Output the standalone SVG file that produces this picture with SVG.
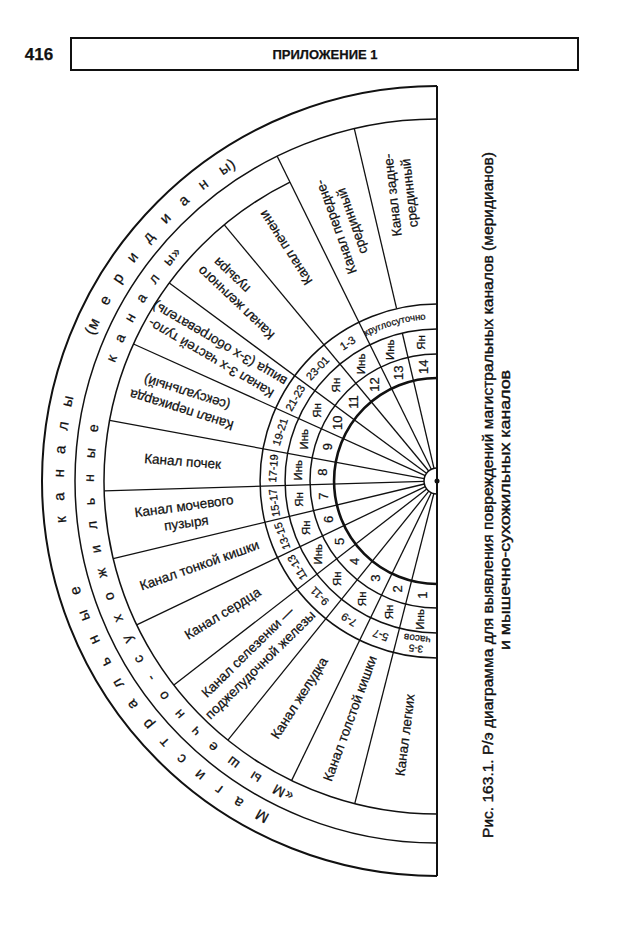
<svg xmlns="http://www.w3.org/2000/svg" width="620" height="930" viewBox="0 0 620 930">
<style>
text{font-family:"Liberation Sans",Arial,sans-serif;fill:#111;text-anchor:middle;stroke:#111;stroke-width:0.25}
.sp{fill:none;stroke:#111;stroke-width:1.3}
.arc{fill:none;stroke:#111;stroke-width:1.5}
.lbl{font-size:13.5px}
.num{font-size:13px}
.yy{font-size:11.5px}
.tm{font-size:11px}
.rg{font-size:15px;text-anchor:start}
.rm{font-size:14px;text-anchor:start}
.cap{font-size:15px;stroke-width:0.4}
</style>
<defs>
<path id="pOuter" d="M437,854 A373,373 0 0 1 437,108"/>
<path id="pMid" d="M437,824 A343,343 0 0 1 437,138"/>
<path id="pKr" d="M358.7,340 A162,162 0 0 1 434,319"/>
</defs>
<rect width="620" height="930" fill="#fff"/>
<g id="header">
<rect x="71" y="38" width="507" height="32" fill="none" stroke="#111" stroke-width="2"/>
<text x="39" y="60" style="font-size:17px;font-weight:bold">416</text>
<text x="325" y="59" style="font-size:13px;font-weight:bold">ПРИЛОЖЕНИЕ 1</text>
</g>
<g id="rings">
<path class="arc" d="M437,468 A13,13 0 0 0 437,494"/>
<circle cx="437" cy="481" r="2.5" fill="#111"/>
<path class="arc" style="stroke-width:2.6" d="M437,378 A103,103 0 0 0 437,584"/>
<path class="arc" d="M437,354 A127,127 0 0 0 437,608"/>
<path class="arc" d="M437,329 A152,152 0 0 0 437,633"/>
<path class="arc" d="M437,304 A177,177 0 0 0 437,658"/>
<path class="arc" d="M437,814 A333,333 0 0 1 290,182.2"/>
<path class="arc" d="M437,119 A362,362 0 0 0 437,843"/>
<path class="arc" style="stroke-width:2" d="M437,86 A395,395 0 0 0 437,876"/>
<line class="sp" style="stroke-width:2" x1="437" y1="86" x2="437" y2="876"/>
</g>
<g id="connectors">
<line class="sp" x1="433.8" y1="493.6" x2="354.75" y2="803.7"/>
<line class="sp" x1="431.3" y1="492.7" x2="291.55" y2="780.6"/>
<line class="sp" x1="428.8" y1="491.1" x2="227.9" y2="740.1"/>
<line class="sp" x1="426.7" y1="489.0" x2="173.9" y2="685.1"/>
<line class="sp" x1="425.3" y1="486.6" x2="136.7" y2="624.9"/>
<line class="sp" x1="424.4" y1="484.0" x2="113.2" y2="558.7"/>
<line class="sp" x1="424.0" y1="481.4" x2="104.15" y2="490.9"/>
<line class="sp" x1="424.2" y1="478.6" x2="109.6" y2="420.3"/>
<line class="sp" x1="425.2" y1="475.7" x2="133.5" y2="344.0"/>
<line class="sp" x1="426.5" y1="473.3" x2="169.3" y2="282.9"/>
<line class="sp" x1="428.7" y1="471.0" x2="224.3" y2="224.8"/>
<line class="sp" x1="431.3" y1="469.3" x2="277.2" y2="156.2"/>
<line class="sp" x1="434.0" y1="468.3" x2="402.3" y2="333.0"/>
<line class="sp" x1="396.6" y1="308.7" x2="354.3" y2="128.6"/>
</g>
<g id="ring-outer">
<text class="rg"><textPath href="#pOuter" startOffset="173" style="letter-spacing:16.4px">Магистральные</textPath></text>
<text class="rg"><textPath href="#pOuter" startOffset="544" style="letter-spacing:15px">каналы</textPath></text>
<text class="rg"><textPath href="#pOuter" startOffset="735"><tspan style="letter-spacing:0.5px">(</tspan><tspan style="letter-spacing:16.7px">меридиан</tspan><tspan style="letter-spacing:0.5px">ы)</tspan></textPath></text>
</g>
<g id="ring-middle">
<text class="rm"><textPath href="#pMid" startOffset="147"><tspan style="letter-spacing:1px">«</tspan><tspan style="letter-spacing:15.8px">Мышечно-сухожильные</tspan></textPath></text>
<text class="rm"><textPath href="#pMid" startOffset="659"><tspan style="letter-spacing:14.6px">канал</tspan><tspan style="letter-spacing:1px">ы»</tspan></textPath></text>
</g>
<g id="sector-1">
<text class="lbl" transform="translate(405.1,735) rotate(-82.85)" y="4.5">Канал легких</text>
<text class="num" transform="translate(422.7,595.1) rotate(-90)" y="4.5">1</text>
<text class="yy" transform="translate(419.6,619.4) rotate(-90)" y="4">Инь</text>
<text class="tm" transform="translate(416.5,644.2) rotate(187.15)" style="font-size:10px"><tspan x="0" y="-1">3-5</tspan><tspan x="0" y="9">часов</tspan></text>
</g>
<g id="sector-2">
<text class="lbl" transform="translate(350,718.6) rotate(-69.9)" y="4.5">Канал толстой кишки</text>
<text class="num" transform="translate(397.5,589) rotate(-90)" y="4.5">2</text>
<text class="yy" transform="translate(389.1,612) rotate(-90)" y="4">Ян</text>
<text class="tm" transform="translate(380.5,635.5) rotate(200.1)" y="4">5-7</text>
</g>
<g id="sector-3">
<text class="lbl" transform="translate(299.3,698) rotate(-57.6)" y="4.5">Канал желудка</text>
<text class="num" transform="translate(375.4,578.1) rotate(-90)" y="4.5">3</text>
<text class="yy" transform="translate(362.3,598.8) rotate(-90)" y="4">Ян</text>
<text class="tm" transform="translate(348.9,619.9) rotate(212.4)" y="4">7-9</text>
</g>
<g id="sector-4">
<text class="lbl" transform="translate(254.3,658.8) rotate(-44.45)"><tspan x="0" y="-5">Канал селезенки —</tspan><tspan x="0" y="13">поджелудочной железы</tspan></text>
<text class="num" transform="translate(354.9,561.5) rotate(-90)" y="4.5">4</text>
<text class="yy" transform="translate(337.4,578.7) rotate(-90)" y="4">Ян</text>
<text class="tm" transform="translate(319.6,596.2) rotate(225.55)" y="4">9-11</text>
</g>
<g id="sector-5">
<text class="lbl" transform="translate(222.6,613.4) rotate(-31.7)" y="4.5">Канал сердца</text>
<text class="num" transform="translate(339.2,541.4) rotate(-90)" y="4.5">5</text>
<text class="yy" transform="translate(318.3,554.3) rotate(-90)" y="4">Инь</text>
<text class="tm" transform="translate(297,567.4) rotate(238.3)" y="4">11-13</text>
</g>
<g id="sector-6">
<text class="lbl" transform="translate(199.5,565.3) rotate(-19.55)" y="4.5">Канал тонкой кишки</text>
<text class="num" transform="translate(328.6,519.5) rotate(-90)" y="4.5">6</text>
<text class="yy" transform="translate(305.5,527.7) rotate(-90)" y="4">Ян</text>
<text class="tm" transform="translate(282,536) rotate(250.45)" y="4">13-15</text>
</g>
<g id="sector-7">
<text class="lbl" transform="translate(185.2,514.6) rotate(-7.6)"><tspan x="0" y="-4">Канал мочевого</tspan><tspan x="0" y="13">пузыря</tspan></text>
<text class="num" transform="translate(323,496.2) rotate(-90)" y="4.5">7</text>
<text class="yy" transform="translate(298.7,499.5) rotate(-90)" y="4">Ян</text>
<text class="tm" transform="translate(274.1,502.8) rotate(262.4)" y="4">15-17</text>
</g>
<g id="sector-8">
<text class="lbl" transform="translate(182.7,461.4) rotate(4.4)" y="4.5">Канал почек</text>
<text class="num" transform="translate(322.3,472.2) rotate(-90)" y="4.5">8</text>
<text class="yy" transform="translate(297.9,470.3) rotate(-90)" y="4">Инь</text>
<text class="tm" transform="translate(273,468.4) rotate(274.4)" y="4">17-19</text>
</g>
<g id="sector-9">
<text class="lbl" transform="translate(184.1,401.8) rotate(197.4)"><tspan x="0" y="-4">Канал перикарда</tspan><tspan x="0" y="14">(сексуальный)</tspan></text>
<text class="num" transform="translate(327.3,446.6) rotate(-90)" y="4.5">9</text>
<text class="yy" transform="translate(303.9,439.3) rotate(-90)" y="4">Инь</text>
<text class="tm" transform="translate(280,431.8) rotate(287.4)" y="4">19-21</text>
</g>
<g id="sector-10">
<text class="lbl" transform="translate(215.3,350.9) rotate(210.4)"><tspan x="0" y="-4">Канал 3-х частей туло-</tspan><tspan x="0" y="13">вища (3-х обогреватель)</tspan></text>
<text class="num" transform="translate(337.8,422.8) rotate(-90)" y="4.5">10</text>
<text class="yy" transform="translate(316.7,410.4) rotate(-90)" y="4">Ян</text>
<text class="tm" transform="translate(295.1,397.8) rotate(300.4)" y="4">21-23</text>
</g>
<g id="sector-11">
<text class="lbl" transform="translate(241.9,296.7) rotate(223.4)"><tspan x="0" y="-4">Канал желчного</tspan><tspan x="22" y="13">пузыря</tspan></text>
<text class="num" transform="translate(353.4,402) rotate(-90)" y="4.5">11</text>
<text class="yy" transform="translate(335.6,385.1) rotate(-90)" y="4">Ян</text>
<text class="tm" transform="translate(317.5,368) rotate(313.4)" y="4">23-01</text>
</g>
<g id="sector-12">
<text class="lbl" transform="translate(285.8,247.7) rotate(237.05)" y="4.5">Канал печени</text>
<text class="num" transform="translate(374.4,384.5) rotate(-90)" y="4.5">12</text>
<text class="yy" transform="translate(361.1,363.9) rotate(-90)" y="4">Инь</text>
<text class="tm" transform="translate(347.5,343) rotate(327.05)" y="4">1-3</text>
</g>
<g id="sector-13">
<text class="lbl" transform="translate(344,224) rotate(250.3)"><tspan x="0" y="-4">Канал передне-</tspan><tspan x="0" y="13">срединный</tspan></text>
<text class="num" transform="translate(398.2,372.7) rotate(-90)" y="4.5">13</text>
<text class="yy" transform="translate(390,349.7) rotate(-90)" y="4">Инь</text>
</g>
<g id="sector-14">
<text class="lbl" transform="translate(401,194) rotate(263.4)"><tspan x="0" y="-4">Канал задне-</tspan><tspan x="0" y="13">срединный</tspan></text>
<text class="num" transform="translate(423.8,366.8) rotate(-90)" y="4.5">14</text>
<text class="yy" transform="translate(421,342.4) rotate(-90)" y="4">Ян</text>
</g>
<g id="sector-13-14-time">
<text class="tm" style="font-size:9.5px"><textPath href="#pKr" startOffset="50%">круглосуточно</textPath></text>
</g>
<g id="caption">
<text class="cap" transform="translate(493,495) rotate(-90)" textLength="686" lengthAdjust="spacingAndGlyphs">Рис. 163.1. Р/э диаграмма для выявления повреждений магистральных каналов (меридианов)</text>
<text class="cap" transform="translate(510,510) rotate(-90)" textLength="280" lengthAdjust="spacingAndGlyphs">и мышечно-сухожильных каналов</text>
</g>
</svg>
